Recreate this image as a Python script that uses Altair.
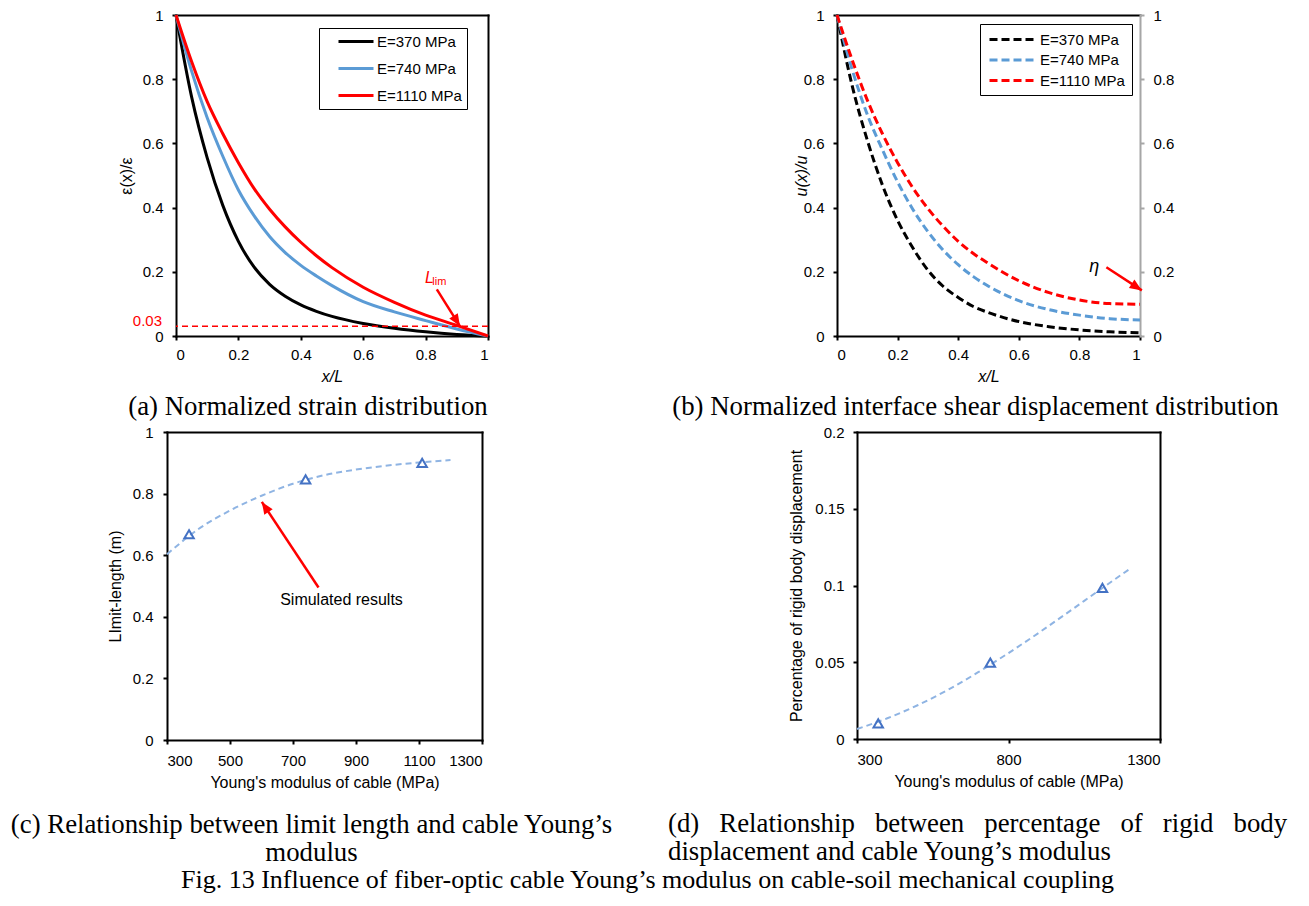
import altair as alt
import pandas as pd

# ---------------- data ----------------
series = ["E=370 MPa", "E=740 MPa", "E=1110 MPa"]
series_colors = ["#000000", "#5B9BD5", "#FF0000"]

x_pos = [0, 0.05, 0.1, 0.15, 0.2, 0.25, 0.3, 0.35, 0.4, 0.45, 0.5, 0.6, 0.7, 0.8, 0.9, 1.0]
# (a) normalized strain
strain_370 = [1, 0.745, 0.555, 0.407, 0.295, 0.215, 0.161, 0.124, 0.097, 0.077, 0.061, 0.039, 0.024, 0.013, 0.005, 0]
strain_740 = [1, 0.825, 0.68, 0.56, 0.455, 0.375, 0.31, 0.26, 0.22, 0.187, 0.157, 0.107, 0.075, 0.048, 0.022, 0]
strain_1110 = [1, 0.855, 0.73, 0.63, 0.54, 0.46, 0.395, 0.34, 0.292, 0.25, 0.213, 0.152, 0.105, 0.065, 0.033, 0]
# (b) normalized interface shear displacement
disp_370 = [1, 0.78, 0.61, 0.47, 0.36, 0.275, 0.205, 0.155, 0.12, 0.092, 0.073, 0.045, 0.029, 0.019, 0.013, 0.01]
disp_740 = [1, 0.83, 0.69, 0.58, 0.48, 0.395, 0.325, 0.268, 0.222, 0.185, 0.155, 0.11, 0.082, 0.065, 0.054, 0.05]
disp_1110 = [1, 0.86, 0.735, 0.63, 0.54, 0.462, 0.397, 0.342, 0.295, 0.257, 0.226, 0.172, 0.135, 0.112, 0.101, 0.099]
strain_threshold = [0.03]

# (c), (d) simulated results and dashed trend
E_sim = [370, 740, 1110]
limit_len = [0.668, 0.846, 0.9]
rigid_pct = [0.0102, 0.0498, 0.0985]
E_fit = [300, 400, 500, 600, 700, 800, 900, 1000, 1100, 1200]
limit_fit = [0.603, 0.685, 0.745, 0.793, 0.832, 0.86, 0.878, 0.891, 0.901, 0.909]
rigid_fit = [0.0065, 0.0135, 0.022, 0.032, 0.0435, 0.056, 0.0692, 0.083, 0.097, 0.1108]

# annotation anchors (data coordinates)
a_arrow_from = [0.836, 0.145]
a_arrow_to = [0.91, 0.031]
a_label_L = [0.798, 0.164]
a_label_lim = [0.8215, 0.158]
b_arrow_from = [0.889, 0.214]
b_arrow_to = [1.006, 0.142]
b_label_eta = [0.849, 0.215]
c_arrow_from = [781, 0.495]
c_arrow_to = [601, 0.773]
c_label = [854, 0.4545]

# ---------------- helpers ----------------
RED = "#FF0000"
SANS = "Liberation Sans"
SERIF = "Liberation Serif"
ARROW = "M0,0L0.75,1.8L-0.75,1.8Z"
LBL = "'' + datum.value"


def long_df(xs, ys_list):
    rows = []
    for s, ys in zip(series, ys_list):
        for x, y in zip(xs, ys):
            rows.append({"x": x, "y": y, "series": s})
    return pd.DataFrame(rows)


def caption(lines, dx, anchor="middle", align="center", offset=10):
    return alt.TitleParams(text=lines, orient="bottom", anchor=anchor, align=align,
                           frame="group", dx=dx, offset=offset, font=SERIF,
                           fontSize=26.8, fontWeight="normal", color="black", lineHeight=28)


def arrow_layers(start, end, angle):
    shaft = alt.Chart(pd.DataFrame({"x": [start[0]], "y": [start[1]],
                                    "x2": [end[0]], "y2": [end[1]]})).mark_rule(
        color=RED, strokeWidth=2.5).encode(x="x:Q", y="y:Q", x2="x2:Q", y2="y2:Q")
    head = alt.Chart(pd.DataFrame({"x": [end[0]], "y": [end[1]]})).mark_point(
        shape=ARROW, size=180, filled=True, color=RED, opacity=1, angle=angle,
        strokeWidth=0).encode(x="x:Q", y="y:Q")
    return [shaft, head]


def frame_layer(xs, ys, right_axis=None):
    """Invisible layer that carries the top and right frame lines as axes."""
    if right_axis is None:
        right_axis = alt.Axis(orient="right", labels=False, ticks=False, title=None)
    return alt.Chart(pd.DataFrame({"x": [xs.domain[0]], "y": [ys.domain[0]]})).mark_point(
        opacity=0, size=1).encode(
        x=alt.X("x:Q", scale=xs, axis=alt.Axis(orient="top", labels=False, ticks=False, title=None)),
        y=alt.Y("y:Q", scale=ys, axis=right_axis))


# ---------------- panel (a) ----------------
unit_ticks = [0, 0.2, 0.4, 0.6, 0.8, 1]
sa_x = alt.Scale(domain=[0, 1], nice=False)
sa_y = alt.Scale(domain=[0, 1], nice=False)

df_a = long_df(x_pos, [strain_370, strain_740, strain_1110])
lines_a = alt.Chart(df_a).mark_line(strokeWidth=3, interpolate="monotone").encode(
    x=alt.X("x:Q", scale=sa_x, axis=alt.Axis(values=unit_ticks, labelExpr=LBL, title="x/L",
                                             titleFontStyle="italic", labelPadding=7,
                                             titlePadding=6)),
    y=alt.Y("y:Q", scale=sa_y, axis=alt.Axis(values=unit_ticks, labelExpr=LBL, title="ε(x)/ε",
                                             labelPadding=9, titlePadding=8)),
    color=alt.Color("series:N", scale=alt.Scale(domain=series, range=series_colors),
                    legend=alt.Legend(title=None, orient="none", legendX=143, legendY=13,
                                      symbolType="M-2.5,0H2.5", symbolSize=196,
                                      symbolStrokeWidth=3, symbolOffset=23.5,
                                      labelExpr="datum.label + '\u00a0\u00a0'",
                                      labelFont=SANS, labelFontSize=15, labelColor="black",
                                      strokeColor="black", fillColor="white",
                                      padding=5, rowPadding=10, labelOffset=12.5)),
)
thr_a = alt.Chart(pd.DataFrame({"y": strain_threshold})).mark_rule(
    color=RED, strokeWidth=1.5, strokeDash=[6, 4]).encode(y="y:Q")
thr_lbl = alt.Chart(pd.DataFrame({"x": [0], "y": strain_threshold, "t": ["0.03"]})).mark_text(
    align="right", baseline="alphabetic", dx=-14, color=RED, font=SANS, fontSize=15).encode(
    x="x:Q", y="y:Q", text="t:N")
L_txt = alt.Chart(pd.DataFrame({"x": [a_label_L[0]], "y": [a_label_L[1]], "t": ["L"]})).mark_text(
    align="left", baseline="alphabetic", color=RED, font=SANS, fontSize=16,
    fontStyle="italic").encode(x="x:Q", y="y:Q", text="t:N")
lim_txt = alt.Chart(pd.DataFrame({"x": [a_label_lim[0]], "y": [a_label_lim[1]], "t": ["lim"]})).mark_text(
    align="left", baseline="alphabetic", color=RED, font=SANS, fontSize=11).encode(
    x="x:Q", y="y:Q", text="t:N")

main_a = alt.layer(lines_a, thr_a, thr_lbl, L_txt, lim_txt,
                   *arrow_layers(a_arrow_from, a_arrow_to, 148))
panel_a = alt.layer(main_a, frame_layer(sa_x, sa_y)).resolve_axis(
    x="independent", y="independent").properties(
    width=312, height=321,
    title=caption(["(a) Normalized strain distribution"], dx=-24))

# ---------------- panel (b) ----------------
df_b = long_df(x_pos, [disp_370, disp_740, disp_1110])
lines_b = alt.Chart(df_b).mark_line(strokeWidth=3, strokeDash=[8, 4], interpolate="monotone").encode(
    x=alt.X("x:Q", scale=sa_x, axis=alt.Axis(values=unit_ticks, labelExpr=LBL, title="x/L",
                                             titleFontStyle="italic", labelPadding=7,
                                             titlePadding=6)),
    y=alt.Y("y:Q", scale=sa_y, axis=alt.Axis(values=unit_ticks, labelExpr=LBL, title="u(x)/u",
                                             titleFontStyle="italic", labelPadding=9,
                                             titlePadding=-6)),
    color=alt.Color("series:N", scale=alt.Scale(domain=series, range=series_colors),
                    legend=alt.Legend(title=None, orient="none", legendX=143, legendY=9,
                                      symbolType="M-3,0H3", symbolSize=215,
                                      symbolStrokeWidth=3, symbolDash=[8, 4], symbolOffset=16,
                                      labelFont=SANS, labelFontSize=15, labelColor="black",
                                      strokeColor="black", fillColor="white",
                                      padding=6.5, rowPadding=3.5, labelOffset=19.5)),
)
eta_txt = alt.Chart(pd.DataFrame({"x": [b_label_eta[0]], "y": [b_label_eta[1]], "t": ["η"]})).mark_text(
    align="center", baseline="middle", color="black", font=SANS, fontSize=18,
    fontStyle="italic").encode(x="x:Q", y="y:Q", text="t:N")

main_b = alt.layer(lines_b, eta_txt, *arrow_layers(b_arrow_from, b_arrow_to, 123))
right_axis_b = alt.Axis(orient="right", values=unit_ticks, labelExpr=LBL, title=None,
                        domainColor="#A6A6A6", tickColor="#A6A6A6", labelPadding=9)
panel_b = alt.layer(main_b, frame_layer(sa_x, sa_y, right_axis_b)).resolve_axis(
    x="independent", y="independent").properties(
    width=303, height=321,
    title=caption(["(b) Normalized interface shear displacement distribution"], dx=-13))

# ---------------- panel (c) ----------------
FIT_COLOR = "#8FB4E3"
PT_COLOR = "#4472C4"
sc_x = alt.Scale(domain=[300, 1300], nice=False)
sc_y = alt.Scale(domain=[0, 1], nice=False)
xc = alt.X("x:Q", scale=sc_x, axis=alt.Axis(values=[300, 500, 700, 900, 1100, 1300], labelExpr=LBL,
                                            title="Young's modulus of cable (MPa)",
                                            labelPadding=9, titlePadding=6))
yc = alt.Y("y:Q", scale=sc_y, axis=alt.Axis(values=unit_ticks, labelExpr=LBL, title="LImit-length (m)",
                                            labelPadding=10, titlePadding=9))
fit_c = alt.Chart(pd.DataFrame({"x": E_fit, "y": limit_fit})).mark_line(
    color=FIT_COLOR, strokeWidth=2, strokeDash=[6, 4], interpolate="monotone").encode(x=xc, y=yc)
pts_c = alt.Chart(pd.DataFrame({"x": E_sim, "y": limit_len})).mark_point(
    shape="triangle-up", size=90, color=PT_COLOR, strokeWidth=2, filled=False,
    opacity=1).encode(x="x:Q", y="y:Q")
txt_c = alt.Chart(pd.DataFrame({"x": [c_label[0]], "y": [c_label[1]], "t": ["Simulated results"]})).mark_text(
    align="center", baseline="middle", color="black", font=SANS, fontSize=16).encode(
    x="x:Q", y="y:Q", text="t:N")

main_c = alt.layer(fit_c, pts_c, txt_c, *arrow_layers(c_arrow_from, c_arrow_to, 326.5))
panel_c = alt.layer(main_c, frame_layer(sc_x, sc_y)).resolve_axis(
    x="independent", y="independent").properties(
    width=315, height=308,
    title=caption(["(c) Relationship between limit length and cable Young\u2019s", "modulus"],
                  dx=-13, offset=22))

# ---------------- panel (d) ----------------
sd_y = alt.Scale(domain=[0, 0.2], nice=False)
xd = alt.X("x:Q", scale=sc_x, axis=alt.Axis(values=[300, 800, 1300], labelExpr=LBL,
                                            title="Young's modulus of cable (MPa)",
                                            labelPadding=9, titlePadding=6))
yd = alt.Y("y:Q", scale=sd_y, axis=alt.Axis(values=[0, 0.05, 0.1, 0.15, 0.2], labelExpr=LBL,
                                            title="Percentage of rigid body displacement",
                                            labelPadding=9, titlePadding=10))
fit_d = alt.Chart(pd.DataFrame({"x": E_fit, "y": rigid_fit})).mark_line(
    color=FIT_COLOR, strokeWidth=2, strokeDash=[6, 4], interpolate="monotone").encode(x=xd, y=yd)
pts_d = alt.Chart(pd.DataFrame({"x": E_sim, "y": rigid_pct})).mark_point(
    shape="triangle-up", size=90, color=PT_COLOR, strokeWidth=2, filled=False,
    opacity=1).encode(x="x:Q", y="y:Q")

NB = "\u00a0"
d_line1 = ("(d)" + NB * 3 + "Relationship" + NB * 3 + "between" + NB * 3 + "percentage"
           + NB * 3 + "of" + NB * 3 + "rigid" + NB * 3 + "body")
main_d = alt.layer(fit_d, pts_d)
panel_d = alt.layer(main_d, frame_layer(sc_x, sd_y)).resolve_axis(
    x="independent", y="independent").properties(
    width=303, height=307,
    title=caption([d_line1, "displacement and cable Young\u2019s modulus"], dx=-189,
                  anchor="start", align="left", offset=22))


# ---------------- spacers & layout ----------------
def spacer(w, h):
    return alt.Chart(pd.DataFrame({"v": [0]})).mark_point(opacity=0, size=1).encode(
        x=alt.value(5), y=alt.value(5)).properties(width=w, height=h)


row1 = alt.hconcat(spacer(168, 321), panel_a, spacer(349, 321), panel_b,
                   spacing=0, bounds="flush").resolve_scale(color="independent")
row2 = alt.hconcat(spacer(159, 308), panel_c, spacer(375, 308), panel_d,
                   spacing=0, bounds="flush")

chart = alt.vconcat(row1, row2, spacing=4).properties(
    title=alt.TitleParams(
        text="Fig. 13 Influence of fiber-optic cable Young\u2019s modulus on cable-soil mechanical coupling",
        orient="bottom", anchor="middle", font=SERIF, fontSize=26, fontWeight="normal",
        color="black", offset=0),
    padding={"left": 0, "top": 0, "right": 0, "bottom": 0},
    background="white",
).configure_view(stroke=None).configure_axis(
    labelFont=SANS, labelFontSize=15, labelColor="black", titleFont=SANS,
    titleFontSize=16, titleColor="black", titleFontWeight="normal", domainColor="black",
    domainWidth=2, domainCap="square", tickColor="black", tickWidth=2, tickSize=4, grid=False,
)

chart.save("out.html", embed_options={"renderer": "svg", "actions": False})
